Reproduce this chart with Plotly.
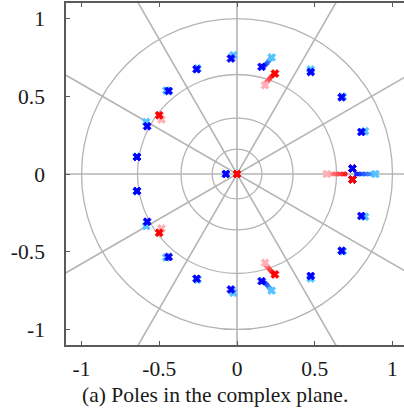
import math
import plotly.graph_objects as go

# ---- data (upper half-plane + real axis; conjugates are added below) ----
# blue set: start (light) and end (dark) pole positions
blue_start_re = [-0.024, -0.255, -0.455, -0.584, -0.645, -0.072, 0.223, 0.474, 0.680, 0.823, 0.890]
blue_start_im = [0.764, 0.680, 0.537, 0.335, 0.112, 0.0, 0.750, 0.672, 0.497, 0.275, 0.0]
blue_end_re = [-0.039, -0.260, -0.440, -0.578, -0.643, -0.072, 0.158, 0.474, 0.673, 0.800, 0.742]
blue_end_im = [0.743, 0.674, 0.534, 0.307, 0.109, 0.0, 0.689, 0.656, 0.494, 0.270, 0.035]
# blue intermediate steps (parameter t in 0..1)
blue_trail_re = [-0.030, 0.215, 0.205, 0.194, 0.182, 0.170, 0.162, -0.582, -0.580,
                 0.865, 0.840, 0.815, 0.790, 0.770, 0.470, 0.677, 0.812]
blue_trail_im = [0.755, 0.742, 0.728, 0.714, 0.703, 0.695, 0.691, 0.325, 0.315,
                 0.0, 0.0, 0.0, 0.0, 0.0, 0.664, 0.496, 0.272]
blue_trail_t = [0.5, 0.15, 0.3, 0.45, 0.6, 0.75, 0.9, 0.4, 0.7,
                0.2, 0.35, 0.5, 0.65, 0.8, 0.5, 0.5, 0.5]

# red set
red_start_re = [0.0, -0.486, 0.180, 0.577]
red_start_im = [0.0, 0.350, 0.571, 0.0]
red_end_re = [0.0, -0.501, 0.244, 0.742]
red_end_im = [0.0, 0.378, 0.646, 0.036]
red_trail_re = [-0.490, -0.495, 0.185, 0.192, 0.200, 0.210, 0.222, 0.235,
                0.600, 0.625, 0.650, 0.675, 0.695]
red_trail_im = [0.360, 0.370, 0.582, 0.593, 0.602, 0.614, 0.627, 0.638,
                0.0, 0.0, 0.0, 0.0, 0.0]
red_trail_t = [0.4, 0.7, 0.15, 0.3, 0.45, 0.6, 0.75, 0.9,
               0.2, 0.4, 0.55, 0.7, 0.85]

grid_radii = [0.16, 0.36, 0.64, 1.0]
grid_angles_deg = [0, 30, 60, 90, 120, 150]
tick_vals = [-1, -0.5, 0, 0.5, 1]
tick_text = ["-1", "-0.5", "0", "0.5", "1"]
caption = "(a) Poles in the complex plane."

BLUE_SCALE = [[0, "#55c3ff"], [1, "#0000ff"]]
RED_SCALE = [[0, "#ffb0b8"], [1, "#ff0000"]]


def with_conj(re, im, t=None):
    xs, ys, ts = [], [], []
    for i, (a, b) in enumerate(zip(re, im)):
        xs.append(a); ys.append(b)
        if t is not None:
            ts.append(t[i])
        if b != 0:
            xs.append(a); ys.append(-b)
            if t is not None:
                ts.append(t[i])
    return xs, ys, ts


def xs_trace(sre, sim, ere, eim, scale, keep):
    xs, ys, ts = [], [], []
    for (re, im, tv) in ((sre, sim, 0.0), (ere, eim, 1.0)):
        a, b, _ = with_conj(re, im)
        for x, y in zip(a, b):
            if keep(y):
                xs.append(x); ys.append(y); ts.append(tv)
    return go.Scatter(x=xs, y=ys, mode="markers",
                      marker=dict(symbol="x", size=7, color=ts, colorscale=scale,
                                  cmin=0, cmax=1,
                                  line=dict(width=0.9, color=ts, colorscale=scale,
                                            cmin=0, cmax=1)),
                      hoverinfo="skip", showlegend=False)


def trail_trace(re, im, t, scale):
    xs, ys, ts = with_conj(re, im, t)
    return go.Scatter(x=xs, y=ys, mode="markers",
                      marker=dict(symbol="circle", size=5, color=ts, colorscale=scale,
                                  cmin=0, cmax=1, line=dict(width=0)),
                      hoverinfo="skip", showlegend=False)


fig = go.Figure()
fig.add_trace(trail_trace(red_trail_re, red_trail_im, red_trail_t, RED_SCALE))
fig.add_trace(xs_trace(red_start_re, red_start_im, red_end_re, red_end_im, RED_SCALE,
                       lambda y: y >= 0))
fig.add_trace(trail_trace(blue_trail_re, blue_trail_im, blue_trail_t, BLUE_SCALE))
fig.add_trace(xs_trace(blue_start_re, blue_start_im, blue_end_re, blue_end_im, BLUE_SCALE,
                       lambda y: True))
fig.add_trace(xs_trace(red_start_re, red_start_im, red_end_re, red_end_im, RED_SCALE,
                       lambda y: y < 0))

GRID = "#b4b4b4"
shapes = []
for r in grid_radii:
    shapes.append(dict(type="circle", xref="x", yref="y", x0=-r, x1=r, y0=-r, y1=r,
                       line=dict(color=GRID, width=1.3), layer="below"))
for a in grid_angles_deg:
    c, s = math.cos(math.radians(a)), math.sin(math.radians(a))
    shapes.append(dict(type="line", xref="x", yref="y", x0=-3 * c, y0=-3 * s,
                       x1=3 * c, y1=3 * s, line=dict(color=GRID, width=1.6),
                       layer="below"))

AX = "#5a5a5a"
FONT = dict(family="Liberation Serif", size=21.5, color="#1a1a1a")
fig.update_layout(
    width=404, height=408,
    margin=dict(l=66, r=0, t=3, b=63, pad=0),
    paper_bgcolor="white", plot_bgcolor="white",
    font=FONT,
    shapes=shapes,
    xaxis=dict(range=[-1.1, 1.074], tickvals=tick_vals, ticktext=tick_text,
               ticks="inside", ticklen=4, tickwidth=1.3, tickcolor=AX,
               showline=True, linecolor=AX, linewidth=1.6, mirror="ticks",
               showgrid=False, zeroline=False, ticklabelstandoff=3,
               tickfont=FONT, fixedrange=True),
    yaxis=dict(range=[-1.1, 1.1], tickvals=tick_vals, ticktext=tick_text,
               ticks="inside", ticklen=4, tickwidth=1.3, tickcolor=AX,
               showline=True, linecolor=AX, linewidth=1.6, mirror=False,
               showgrid=False, zeroline=False, ticklabelstandoff=15,
               tickfont=FONT, fixedrange=True),
    annotations=[dict(text=caption, xref="paper", yref="paper", x=0.44, y=-0.146,
                      xanchor="center", yanchor="middle", showarrow=False, font=FONT)],
)

fig.write_html("out.html", config={"displayModeBar": False},
               post_script="document.body.style.margin='0';document.body.style.overflow='hidden';")
